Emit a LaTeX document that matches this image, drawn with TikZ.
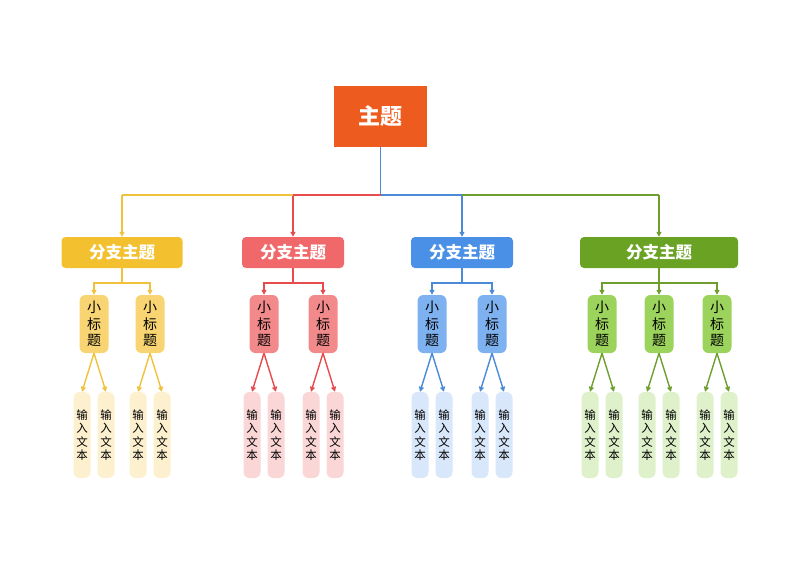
\documentclass[tikz,border=0pt]{standalone}
\usepackage{fontspec}
\setmainfont{Noto Sans CJK SC}
\usetikzlibrary{arrows.meta}

\definecolor{topic}{HTML}{EE5B1F}
\definecolor{mainyel}{HTML}{F3C12F}
\definecolor{subyel}{HTML}{F8D572}
\definecolor{leafyel}{HTML}{FCF0CF}
\definecolor{lineyel}{HTML}{F0C23C}
\definecolor{mainred}{HTML}{F0686A}
\definecolor{subred}{HTML}{F28A8B}
\definecolor{leafred}{HTML}{FAD6D7}
\definecolor{linered}{HTML}{E64B4E}
\definecolor{mainblu}{HTML}{4A90E6}
\definecolor{subblu}{HTML}{7EB1EF}
\definecolor{leafblu}{HTML}{D8E7FA}
\definecolor{lineblu}{HTML}{4A8AD6}
\definecolor{maingrn}{HTML}{6AA224}
\definecolor{subgrn}{HTML}{9CD35C}
\definecolor{leafgrn}{HTML}{DFF1CB}
\definecolor{linegrn}{HTML}{6E9F2E}

\begin{document}
\begin{tikzpicture}[x=1pt,y=-1pt,
		topbox/.style={fill=topic,text=white,minimum width=93pt,minimum height=61pt,
			inner sep=0pt,font=\fontsize{22}{24}\selectfont\bfseries},
		branchbox/.style={rounded corners=4pt,text=white,minimum height=31pt,
			inner sep=0pt,font=\fontsize{16.5}{18}\selectfont\bfseries},
		subbox/.style={rounded corners=6pt,minimum width=29pt,minimum height=58pt,
			inner sep=0pt,align=center,font=\fontsize{14}{16.5}\selectfont},
		leafbox/.style={rounded corners=6pt,minimum width=17pt,minimum height=86pt,
			inner sep=0pt,align=center,font=\fontsize{11.5}{13.5}\selectfont},
		wire/.style={line width=1.4pt},
		link/.style={wire,-{Triangle[length=5pt,width=5pt]}}]
	\useasboundingbox (0,0) rectangle (800,566);
	% the main topic and the bus under it
	\node[topbox] (top) at (380.5,116.5) {主题};
	\coordinate (bus) at (380.5,195);
	% the four branches
	\foreach \c/\x/\w in {yel/122/121, red/293/102, blu/462/102, grn/659/158} {
		\node[branchbox,fill=main\c,minimum width=\w] (br-\c) at (\x,252.5) {分支主题};
		\coordinate (fork-\c) at (\x,283);
		\draw[link,draw=line\c] (br-\c.north |- bus) -- (br-\c.north);
		\draw[wire,draw=line\c] (br-\c.south) -- (fork-\c);
	}
	\draw[wire,lineblu] (top.south) -- (bus);
	\draw[wire,lineyel] (br-yel.north |- bus) -- (br-red.north |- bus);
	\draw[wire,linered] (br-red.north |- bus) -- (bus);
	\draw[wire,lineblu] (bus) -- (br-blu.north |- bus);
	\draw[wire,linegrn] (br-blu.north |- bus) -- (br-grn.north |- bus);
	% small titles and their input texts
	\foreach \c/\subs in {yel/{94,150}, red/{264,323}, blu/{432,492}, grn/{602,659,717}} {
		\foreach \s [count=\i] in \subs {
			\node[subbox,fill=sub\c] (sub-\c-\i) at (\s,324) {小\\标\\题};
			\node[leafbox,fill=leaf\c] (leaf-\c-\i-a) at (\s-12,435) {输\\入\\文\\本};
			\node[leafbox,fill=leaf\c] (leaf-\c-\i-b) at (\s+12,435) {输\\入\\文\\本};
			\draw[link,draw=line\c] (fork-\c) -| (sub-\c-\i.north);
			\draw[link,draw=line\c] (sub-\c-\i.south) -- (leaf-\c-\i-a.north);
			\draw[link,draw=line\c] (sub-\c-\i.south) -- (leaf-\c-\i-b.north);
		}
	}
\end{tikzpicture}
\end{document}
